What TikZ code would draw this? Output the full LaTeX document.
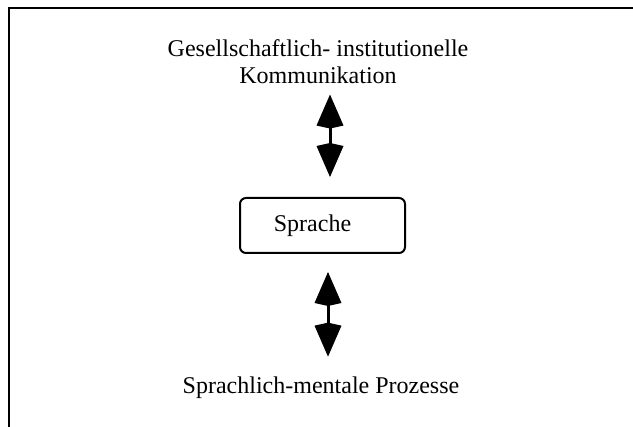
\documentclass[tikz,border=0pt]{standalone}
\usepackage{fontspec}
\setmainfont{Liberation Serif}
\usetikzlibrary{arrows.meta}
\begin{document}
\begin{tikzpicture}[x=0.5pt,y=-0.5pt,
  frameline/.style={line width=1.25pt},
  labeltext/.style={font=\fontsize{12}{13.4}\selectfont, inner sep=0pt, outer sep=0pt},
  roundbox/.style={draw, line width=1pt, rounded corners=3pt,
    minimum width=82.5pt, minimum height=27.5pt, inner sep=0pt, outer sep=0pt,
    font=\fontsize{12}{14}\selectfont},
  bighead/.style={Kite[length=17pt,width=13.5pt,inset=1.5pt]},
  bigarrow/.style={line width=1.5pt, {Kite[length=17pt,width=13.5pt,inset=1.5pt]}-{Kite[length=17pt,width=13.5pt,inset=1.5pt]}}
]
\useasboundingbox (0,0) rectangle (633,427);
% open frame: only the left and top edges lie inside the page
\begin{scope}
  \clip (0,0) rectangle (633,427);
  \draw[frameline] (9,440) -- (9,8) -- (650,8);
\end{scope}

\node[labeltext, align=center, anchor=north] (gik) at (318,39.6)
  {Gesellschaftlich- institutionelle\\Kommunikation};
\node[roundbox] (sprache) at (322.5,225.5) {Sprache\kern10pt};
\node[labeltext, anchor=base] (spm) at (321,393.3) {Sprachlich-mentale Prozesse};

\coordinate (upx) at (330,0);
\coordinate (lowx) at (328,0);
\draw[bigarrow, shorten <=5.5pt, shorten >=10.5pt] (gik.south -| upx) -- (sprache.north -| upx);
\draw[bigarrow, shorten <=9.5pt, shorten >=10pt] (sprache.south -| lowx) -- (spm.north -| lowx);
\end{tikzpicture}
\end{document}
